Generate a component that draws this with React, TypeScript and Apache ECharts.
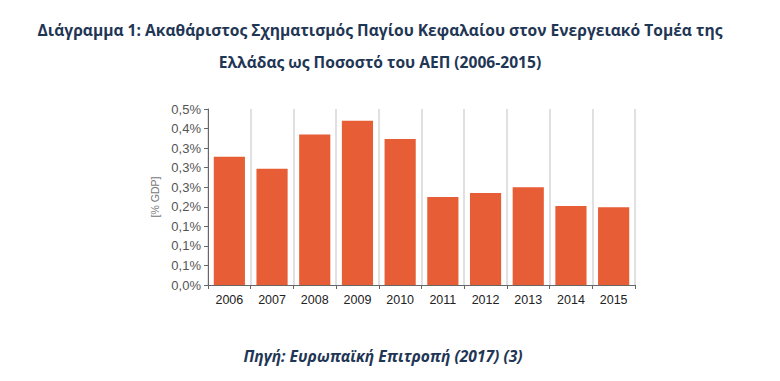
import React, { useEffect, useRef } from "react";
import * as echarts from "echarts";

const years = ["2006", "2007", "2008", "2009", "2010", "2011", "2012", "2013", "2014", "2015"];
const values = [0.328, 0.297, 0.385, 0.42, 0.373, 0.225, 0.235, 0.25, 0.202, 0.199];
const titleLines = [
  "Διάγραμμα 1: Ακαθάριστος Σχηματισμός Παγίου Κεφαλαίου στον Ενεργειακό Τομέα της",
  "Ελλάδας ως Ποσοστό του ΑΕΠ (2006-2015)",
];
const sourceText = "Πηγή: Ευρωπαϊκή Επιτροπή (2017) (3)";
const yAxisName = "[% GDP]";

export default function App() {
  const ref = useRef<HTMLDivElement>(null);
  useEffect(() => {
    if (!ref.current) return;
    const chart = echarts.init(ref.current, null, { renderer: "svg" });
    chart.setOption({
      animation: false,
      backgroundColor: "#ffffff",
      grid: { left: 208, right: 145, top: 109, bottom: 96 },
      graphic: [
        {
          type: "text",
          x: 380,
          y: 30,
          style: {
            text: titleLines[0],
            font: "bold 15.6px 'Open Sans'",
            fill: "#1f3655",
            align: "center",
            verticalAlign: "middle",
          },
        },
        {
          type: "text",
          x: 380,
          y: 62,
          style: {
            text: titleLines[1],
            font: "bold 15.6px 'Open Sans'",
            fill: "#1f3655",
            align: "center",
            verticalAlign: "middle",
          },
        },
        {
          type: "text",
          x: 383,
          y: 356,
          style: {
            text: sourceText,
            font: "italic bold 15.6px 'Open Sans'",
            fill: "#1f3655",
            align: "center",
            verticalAlign: "middle",
          },
        },
      ],
      xAxis: {
        type: "category",
        data: years,
        axisLine: { lineStyle: { color: "#666", width: 1 } },
        axisTick: { show: true, alignWithLabel: false, lineStyle: { color: "#666" }, length: 4 },
        axisLabel: { color: "#222", fontFamily: "Arial, 'Liberation Sans'", fontSize: 12.5, margin: 8 },
        splitLine: { show: true, lineStyle: { color: "#d6d6d6", width: 1.5 } },
      },
      yAxis: {
        type: "value",
        min: 0,
        max: 0.45,
        interval: 0.05,
        name: yAxisName,
        nameLocation: "middle",
        nameGap: 44,
        nameRotate: 90,
        nameTextStyle: { color: "#777", fontFamily: "Arial, 'Liberation Sans'", fontSize: 10.5 },
        axisLine: { show: true, lineStyle: { color: "#666", width: 1 } },
        axisTick: { show: true, length: 4, lineStyle: { color: "#666" } },
        axisLabel: {
          color: "#555",
          fontFamily: "Arial, 'Liberation Sans'",
          fontSize: 13,
          margin: 7,
          formatter: (v: number) => v.toFixed(1).replace(".", ",") + "%",
        },
        splitLine: { show: false },
      },
      series: [
        {
          type: "bar",
          data: values,
          barCategoryGap: "27%",
          itemStyle: { color: "#e65d36" },
        },
      ],
    });
    return () => chart.dispose();
  }, []);
  return <div ref={ref} style={{ width: 780, height: 381, margin: -8 }} />;
}
